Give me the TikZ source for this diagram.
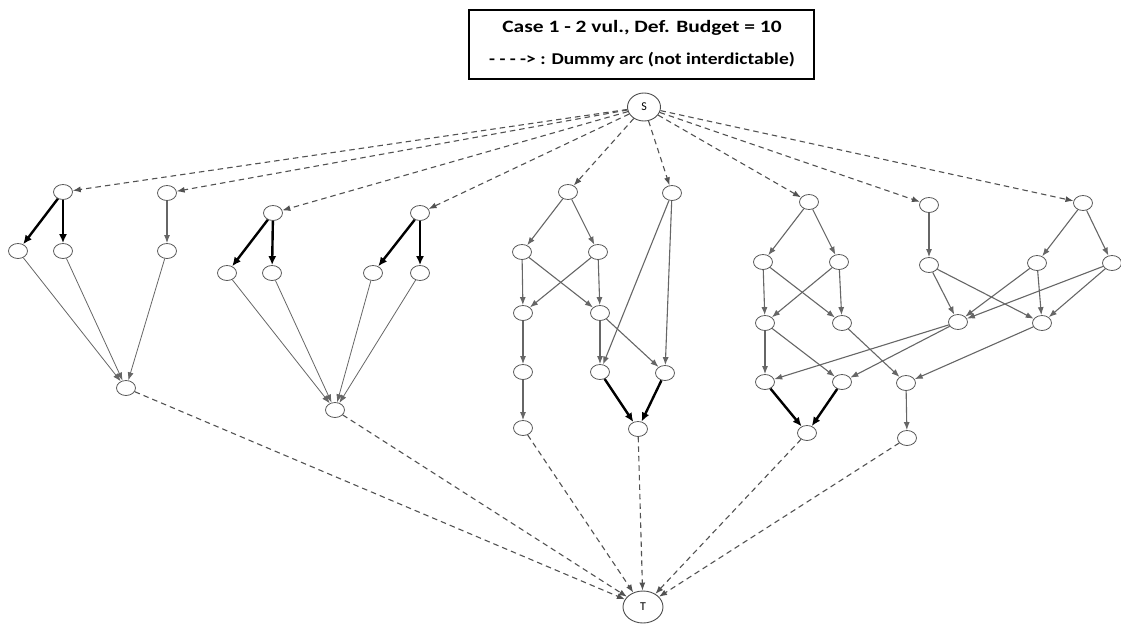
\documentclass[tikz,border=0pt]{standalone}
\usepackage{fontspec}
\setmainfont{Carlito}
\usetikzlibrary{shapes.geometric,arrows.meta}

\begin{document}
\begin{tikzpicture}[x=1pt,y=-1pt,
  v/.style={ellipse,draw=black!65,line width=0.8pt,minimum width=19pt,minimum height=15pt,inner sep=0pt,fill=white},
  term/.style={ellipse,draw=black!70,line width=0.9pt,inner sep=0pt,fill=white,font=\fontsize{12}{14}\selectfont},
  legtext/.style={font=\bfseries\fontsize{16.5}{19}\selectfont,inner sep=0pt},
  arc/.style={draw=black!60,line width=1.1pt,-{Latex[length=8pt,width=6pt]}},
  fan/.style={draw=black!60,line width=0.8pt,-{Latex[length=8pt,width=6pt]}},
  cut/.style={draw=black,line width=2.4pt,-{Latex[length=9pt,width=8pt]}},
  dummy/.style={draw=black!68,line width=1.1pt,dash pattern=on 5.5pt off 4pt,-{Latex[length=8pt,width=6pt]}},
]
\useasboundingbox (0,0) rectangle (1121,624);

% legend
\node[draw=black,line width=1.4pt,minimum width=345pt,minimum height=69pt,inner sep=0pt] (legend) at (641.5,44.5) {};
\node[legtext] (leg1) at (642,28) {\scalebox{1.3}[1.05]{Case 1 - 2 vul., Def. Budget = 10}};
\node[legtext] (leg2) at (642,60) {\scalebox{1.18}[1]{- - - -{}> : Dummy arc (not interdictable)}};

% source and sink
\node[term,minimum width=33pt,minimum height=28pt] (S) at (644,107) {S};
\node[term,minimum width=40pt,minimum height=32pt] (T) at (643,607) {T};

% vertices
\foreach \n/\x/\y in {
  A1/63/192, A2/18/251, A3/63/251, B1/167/193, B2/167/251, AB/126/388,
  C1/273/213, C2/227/273, C3/272/273, D1/420/213, D2/373/273, D3/420/273, CD/335/410,
  E1/568/192, E2/522/252, E3/598/252, E4/523/313, E5/600/313, E6/523/372, E8/523/428,
  E7/600/372, F1/672/193, F2/665/373, EF/638/429,
  G1/809/202, G2/763/262, G3/839/262, G4/765/323, G5/842/323, G6/765/382, G7/842/382, G8/807/433,
  H1/929/205, H2/929/265, I4/958/322, I5/1042/323, H6/906/383, H7/907/438,
  J1/1083/203, J2/1037/263, J3/1112/263}
  \node[v] (\n) at (\x,\y) {};

% dummy arcs out of the source
\foreach \t in {A1,B1,C1,D1,E1,F1,G1,H1,J1}
  \draw[dummy] (S) -- (\t);
% dummy arcs into the sink
\foreach \f in {AB,CD,E8,EF,G8,H7}
  \draw[dummy] (\f) -- (T);

% interdicted arcs
\foreach \a/\b in {A1/A2, A1/A3, C1/C2, C1/C3, D1/D2, D1/D3, E7/EF, F2/EF, G6/G8, G7/G8}
  \draw[cut] (\a) -- (\b);

% fan-in arcs
\foreach \a/\b in {A2/AB, A3/AB, B2/AB, C2/CD, C3/CD, D2/CD, D3/CD}
  \draw[fan] (\a) -- (\b);

% remaining arcs
\foreach \a/\b in {B1/B2,
  E1/E2, E1/E3, E2/E4, E2/E5, E3/E4, E3/E5, E4/E6, E6/E8, E5/E7, E5/F2, F1/E7, F1/F2,
  G1/G2, G1/G3, G2/G4, G2/G5, G3/G4, G3/G5, G4/G6, G4/G7, G5/H6,
  I4/G6, I4/G7, I5/H6, H1/H2, H2/I4, H2/I5, H6/H7,
  J1/J2, J1/J3, J2/I4, J2/I5, J3/I4, J3/I5}
  \draw[arc] (\a) -- (\b);
\end{tikzpicture}
\end{document}
